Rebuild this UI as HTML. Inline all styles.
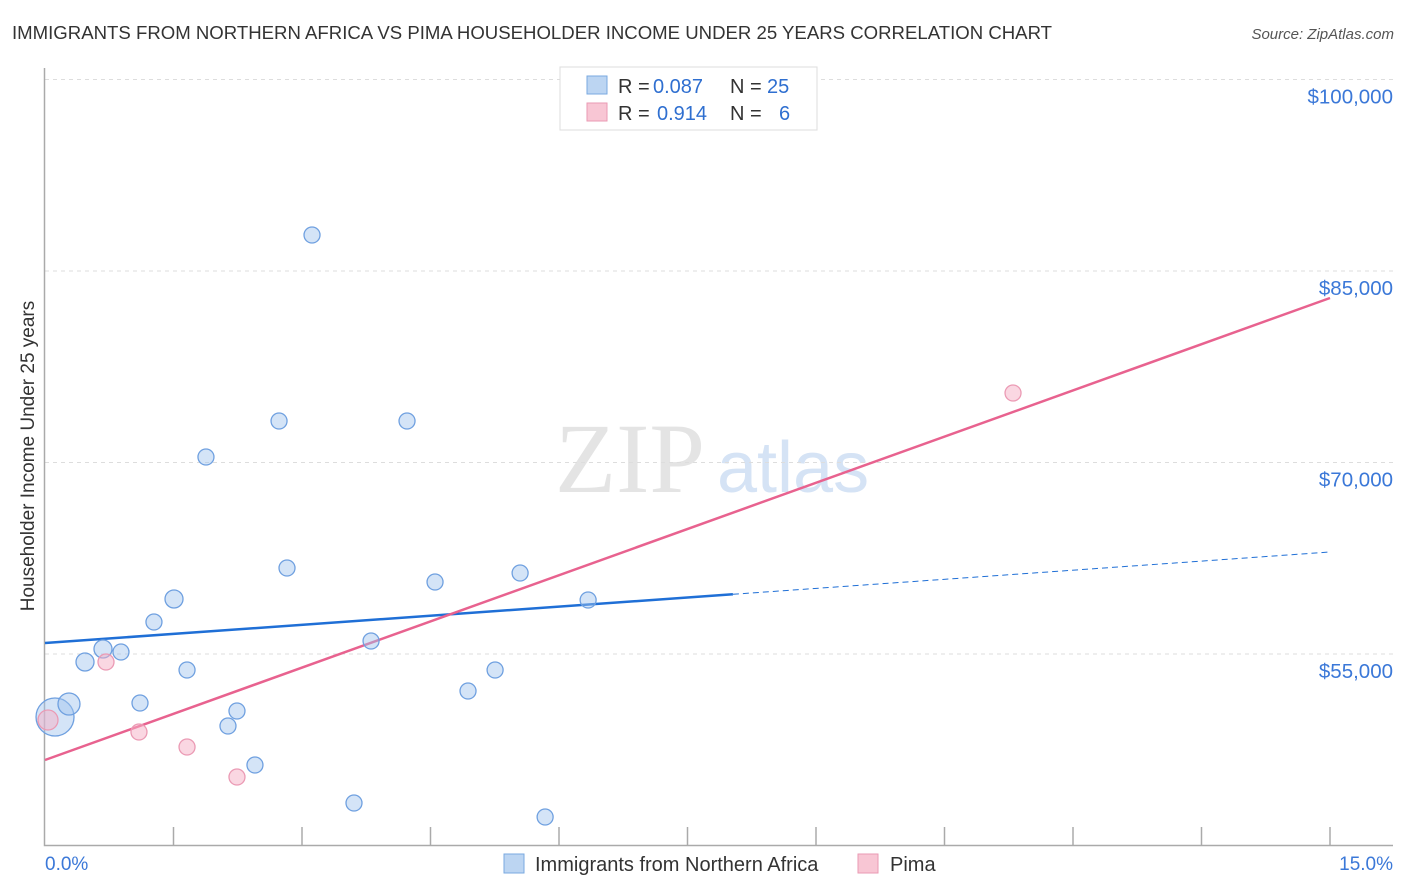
<!DOCTYPE html>
<html><head><meta charset="utf-8"><style>
body{margin:0;background:#fff;font-family:"Liberation Sans",sans-serif;}
#wrap{position:relative;width:1406px;height:892px;overflow:hidden;}
</style></head><body>
<div id="wrap">
<svg id="svg" width="1406" height="892" xmlns="http://www.w3.org/2000/svg">
<text x="12" y="39" font-size="18.6" fill="#333">IMMIGRANTS FROM NORTHERN AFRICA VS PIMA HOUSEHOLDER INCOME UNDER 25 YEARS CORRELATION CHART</text>
<text x="1394" y="39" font-size="15" fill="#555" font-style="italic" text-anchor="end">Source: ZipAtlas.com</text>
<text x="555" y="492" font-size="100" fill="#e4e4e4" font-family="Liberation Serif, serif">ZIP</text>
<text x="717" y="492" font-size="72" fill="#d5e3f5">atlas</text>
<text transform="translate(34,456) rotate(-90)" font-size="19" fill="#333" text-anchor="middle">Householder Income Under 25 years</text>
<g id="grid"></g><g id="axes"></g><g id="lines"></g><g id="pts"></g>
<g>
<rect x="560" y="67" width="257" height="63" fill="#fff" stroke="#ddd"/>
<rect x="587" y="76" width="20" height="18" fill="#bcd5f2" stroke="#7aa9e0"/>
<text x="618" y="93" font-size="20" fill="#333">R =</text>
<text x="653" y="93" font-size="20" fill="#2f6fd0">0.087</text>
<text x="730" y="93" font-size="20" fill="#333">N =</text>
<text x="767" y="93" font-size="20" fill="#2f6fd0">25</text>
<rect x="587" y="103" width="20" height="18" fill="#f8c6d4" stroke="#ea9ab3"/>
<text x="618" y="120" font-size="20" fill="#333">R =</text>
<text x="657" y="120" font-size="20" fill="#2f6fd0">0.914</text>
<text x="730" y="120" font-size="20" fill="#333">N =</text>
<text x="779" y="120" font-size="20" fill="#2f6fd0">6</text>
</g>
<g>
<rect x="504" y="854" width="20" height="19" fill="#bcd5f2" stroke="#7aa9e0"/>
<text x="535" y="871" font-size="20" fill="#333">Immigrants from Northern Africa</text>
<rect x="858" y="854" width="20" height="19" fill="#f8c6d4" stroke="#ea9ab3"/>
<text x="890" y="871" font-size="20" fill="#333">Pima</text>
</g>
<text x="45" y="870" font-size="19" fill="#3b78d8">0.0%</text>
<text x="1393" y="870" font-size="19" fill="#3b78d8" text-anchor="end">15.0%</text>
</svg>
</div>
<script>
const yTicks=[55000,70000,85000,100000];
const yTickLabels=["$55,000","$70,000","$85,000","$100,000"];
const blueX=[0.117,0.28,0.467,0.677,0.887,1.109,1.272,1.506,1.658,1.879,2.136,2.241,2.451,2.732,2.825,3.117,3.607,3.806,4.226,4.553,4.938,5.254,5.546,5.838,6.34];
const blueY=[50065,51084,54373,55392,55157,51162,57507,59308,53747,70431,49360,50535,46305,73251,61736,87820,43329,56018,73251,60640,52102,53747,61345,42232,59230];
const blueR=[19,11,9,9,8,8,8,9,8,8,8,8,8,8,8,8,8,8,8,8,8,8,8,8,8];
const pinkX=[0.035,0.712,1.097,1.658,2.241,11.3];
const pinkY=[49830,54373,48890,47715,45365,75444];
const pinkR=[10,8,8,8,8,8];
const blueLine=[55862,62990]; // values at 0% and 15%
const blueSolidEnd=8.03;
const pinkLine=[46697,82885];
const X=p=>45+p*1285/15, Y=v=>654-(v-55000)*191.5/15000;
const NS="http://www.w3.org/2000/svg";
function mk(t,a,parent){const e=document.createElementNS(NS,t);for(const k in a)e.setAttribute(k,a[k]);document.getElementById(parent).appendChild(e);return e;}
yTicks.forEach((v,i)=>{
 const l=mk('line',{x1:45,x2:1393,y1:Y(v),y2:Y(v),stroke:'#ddd','stroke-dasharray':'4,4'},'grid');
 
 
 const t=mk('text',{x:1393,y:Y(v)+24,'font-size':20.5,fill:'#3b78d8','text-anchor':'end'},'grid');
 t.textContent=yTickLabels[i];
 
 
});
const ax=mk('path',{d:'M44.5,68V845.5H1393',stroke:'#aaa',fill:'none','stroke-width':1.5},'axes');


for(let i=1;i<=10;i++){const t=mk('line',{x1:X(i*1.5),x2:X(i*1.5),y1:827,y2:845,stroke:'#aaa','stroke-width':1.5},'axes');
 
 }
const by=p=>blueLine[0]+(blueLine[1]-blueLine[0])*p/15;
let l1=mk('line',{x1:X(0),y1:Y(by(0)),x2:X(blueSolidEnd),y2:Y(by(blueSolidEnd)),stroke:'#1f6fd6','stroke-width':2.5},'lines');


let l2=mk('line',{x1:X(blueSolidEnd),y1:Y(by(blueSolidEnd)),x2:X(15),y2:Y(by(15)),stroke:'#1f6fd6','stroke-width':1,'stroke-dasharray':'6,4'},'lines');


let l3=mk('line',{x1:X(0),y1:Y(pinkLine[0]),x2:X(15),y2:Y(pinkLine[1]),stroke:'#e8628f','stroke-width':2.5},'lines');


blueX.forEach((p,i)=>{const c=mk('circle',{cx:X(p),cy:Y(blueY[i]),r:blueR[i],fill:'rgba(160,196,238,0.45)',stroke:'#6fa0e0','stroke-width':1.3},'pts');
 
 });
pinkX.forEach((p,i)=>{const c=mk('circle',{cx:X(p),cy:Y(pinkY[i]),r:pinkR[i],fill:'rgba(245,175,198,0.5)',stroke:'#eb9ab4','stroke-width':1.3},'pts');
 
 });
</script>
</body></html>
